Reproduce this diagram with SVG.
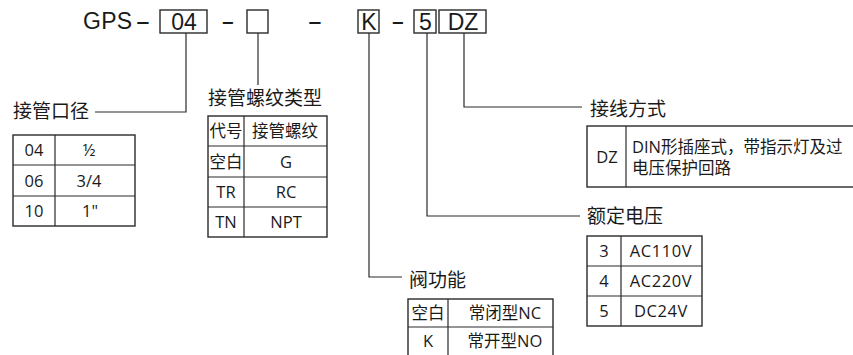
<svg xmlns="http://www.w3.org/2000/svg" width="853" height="355" viewBox="0 0 853 355">
<style>
.bg{fill:#fff}
.box{fill:none;stroke:#2a2a2a;stroke-width:1.4}
.ln{fill:none;stroke:#2a2a2a;stroke-width:1.2}
.hd{font-family:"Liberation Sans",Arial,sans-serif;font-size:23px;fill:#1a1a1a}
.lb{font-family:"Noto Sans CJK SC",sans-serif;font-size:19px;fill:#1a1a1a}
.t{font-family:"Open Sans","Noto Sans CJK SC",sans-serif;font-size:16.5px;fill:#1a1a1a;text-anchor:middle}
.tl{font-family:"Open Sans","Noto Sans CJK SC",sans-serif;font-size:16.5px;fill:#1a1a1a}
</style>
<rect class="bg" width="853" height="355"/>
<g id="header">
  <text class="hd" x="83" y="29" letter-spacing="0.3">GPS</text>
  <text class="hd" text-anchor="middle" transform="translate(143,29) scale(2.0,1)">-</text>
  <rect class="box" x="160" y="10" width="47" height="23"/>
  <text class="hd" x="184" y="30" text-anchor="middle">04</text>
  <text class="hd" text-anchor="middle" transform="translate(228,29) scale(1.8,1)">-</text>
  <rect class="box" x="247" y="10" width="21" height="23"/>
  <text class="hd" text-anchor="middle" transform="translate(315,29) scale(2.0,1)">-</text>
  <rect class="box" x="358" y="10" width="21" height="23"/>
  <text class="hd" x="369" y="30" text-anchor="middle">K</text>
  <text class="hd" text-anchor="middle" transform="translate(398,29) scale(1.8,1)">-</text>
  <rect class="box" x="414" y="10" width="22" height="23"/>
  <text class="hd" x="425.5" y="30" text-anchor="middle">5</text>
  <rect class="box" x="439" y="10" width="47" height="23"/>
  <text class="hd" x="463" y="30" text-anchor="middle">DZ</text>
</g>
<g id="connectors">
  <path class="ln" d="M186,33 V112 H95"/>
  <path class="ln" d="M258,33 V85"/>
  <path class="ln" d="M369,33 V277 H402"/>
  <path class="ln" d="M427,33 V216 H580"/>
  <path class="ln" d="M464,33 V107 H582"/>
</g>
<g id="size">
  <text class="lb" x="13" y="118">接管口径</text>
  <rect class="box" x="13" y="135" width="122" height="91"/>
  <path class="ln" d="M55,135 V226 M13,165 H135 M13,196 H135"/>
  <text class="t" x="34" y="156">04</text>
  <text class="t" x="89" y="156">½</text>
  <text class="t" x="34" y="186.5">06</text>
  <text class="t" x="89" y="186.5">3/4</text>
  <text class="t" x="34" y="217">10</text>
  <text class="t" x="90" y="217">1"</text>
</g>
<g id="thread">
  <text class="lb" x="208" y="105">接管螺纹类型</text>
  <rect class="box" x="208" y="116" width="119" height="121"/>
  <path class="ln" d="M244,116 V237 M208,146 H327 M208,177 H327 M208,207 H327"/>
  <text class="t" x="226" y="137">代号</text>
  <text class="t" x="285" y="137">接管螺纹</text>
  <text class="t" x="226" y="167.5">空白</text>
  <text class="t" x="286" y="167.5">G</text>
  <text class="t" x="226" y="198">TR</text>
  <text class="t" x="286" y="198">RC</text>
  <text class="t" x="226" y="228">TN</text>
  <text class="t" x="286" y="228">NPT</text>
</g>
<g id="valve">
  <text class="lb" x="409" y="287">阀功能</text>
  <rect class="box" x="408" y="299" width="145" height="60"/>
  <path class="ln" d="M448,299 V359 M408,327 H553"/>
  <text class="t" x="428" y="319">空白</text>
  <text class="t" x="505" y="319">常闭型NC</text>
  <text class="t" x="428" y="347">K</text>
  <text class="t" x="505" y="347">常开型NO</text>
</g>
<g id="wiring">
  <text class="lb" x="590" y="116">接线方式</text>
  <rect class="box" x="587" y="126" width="280" height="61"/>
  <path class="ln" d="M626,126 V187"/>
  <text class="t" x="607" y="163">DZ</text>
  <text class="tl" x="632" y="153">DIN形插座式，带指示灯及过</text>
  <text class="tl" x="632" y="174">电压保护回路</text>
</g>
<g id="voltage">
  <text class="lb" x="587" y="223">额定电压</text>
  <rect class="box" x="587" y="236" width="115" height="90"/>
  <path class="ln" d="M621,236 V326 M587,266 H702 M587,296 H702"/>
  <text class="t" x="604" y="257">3</text>
  <text class="t" x="661" y="257" letter-spacing="0.6">AC110V</text>
  <text class="t" x="604" y="287">4</text>
  <text class="t" x="661" y="287" letter-spacing="0.6">AC220V</text>
  <text class="t" x="604" y="317">5</text>
  <text class="t" x="661" y="317" letter-spacing="0.6">DC24V</text>
</g>
</svg>
